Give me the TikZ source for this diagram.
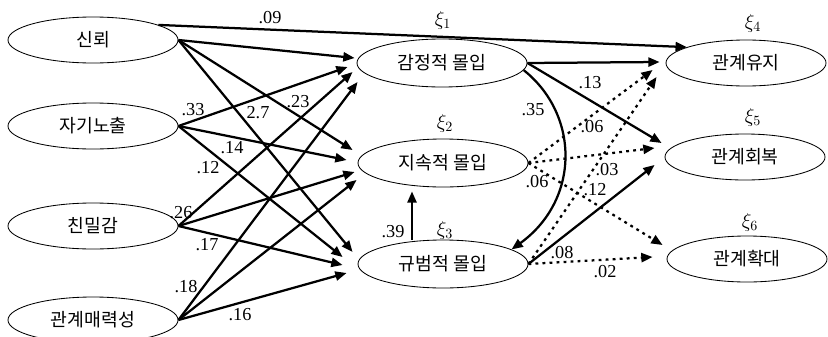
\documentclass[tikz,border=0pt]{standalone}
\usepackage{fontspec}
\setmainfont{Liberation Serif}
\newfontfamily\kr{Noto Sans CJK KR}
\usetikzlibrary{shapes.geometric,arrows.meta}

\begin{document}
\begin{tikzpicture}[x=0.025cm,y=-0.025cm,
		var/.style={ellipse, draw, line width=0.6pt, inner sep=0pt,
			minimum width=4.25cm, minimum height=1.15cm,
			font=\kr\fontsize{13}{15}\selectfont},
		eff/.style={line width=1.6pt, -{Triangle[length=8pt,width=6.5pt]}},
		effdot/.style={eff, dash pattern=on 2pt off 3pt},
		coef/.style={inner sep=0pt, font=\fontsize{13}{15}\selectfont},
		xilab/.style={inner sep=0pt, font=\fontsize{14}{16}\selectfont},
		]
		\useasboundingbox (0,0) rectangle (828,336);
		
		% ── variabili esogene ──
		\node[var] (sin)  at (93,40)  {신뢰};
		\node[var] (jagi) at (93,126) {자기노출};
		\node[var] (chin) at (93,226) {친밀감};
		\node[var] (mae)  at (93,320) {관계매력성};
		
		% ── commitment (centro) ──
		\node[var, minimum height=1.2cm] (gam) at (442,63)  {감정적 몰입};
		\node[var, minimum height=1.2cm] (jis) at (443,163) {지속적 몰입};
		\node[var, minimum height=1.2cm] (gyu) at (443,264) {규범적 몰입};
		
		% ── esiti (destra) ──
		\node[var, minimum width=4cm] (yuji)    at (746,63)  {관계유지};
		\node[var, minimum width=4cm] (hoebok)  at (745,157) {관계회복};
		\node[var, minimum width=4cm] (hwakdae) at (747,259) {관계확대};
		
		% ── etichette xi ──
		\node[xilab] (x1) at (443,20)  {$\xi_1$};
		\node[xilab] (x2) at (445,123) {$\xi_2$};
		\node[xilab] (x3) at (445,230) {$\xi_3$};
		\node[xilab] (x4) at (753,23)  {$\xi_4$};
		\node[xilab] (x5) at (753,117) {$\xi_5$};
		\node[xilab] (x6) at (750,222) {$\xi_6$};
		
		% ── frecce sinistra -> centro ──
		\foreach \s/\t/\dx/\dy in {sin/gam/-2/-5, jagi/gam/-9/4, chin/gam/-4/9, mae/gam/1/19,
			sin/jis/-5/-13, jagi/jis/-11/-3, chin/jis/-3/9, mae/jis/-1/17,
			sin/gyu/-5/-12, jagi/gyu/-15/-7, chin/gyu/-15/1, mae/gyu/-11/9}
		\draw[eff] (\s.east) -- ([shift={(\dx,\dy)}]\t.west);
		\draw[eff] (sin.13) -- (yuji.165);
		
		% ── frecce centro -> destra ──
		\draw[eff] (gam.east) -- ([shift={(-6,-1)}]yuji.west);
		\draw[eff] (gam.east) -- ([shift={(-3,-14)}]hoebok.west);
		\draw[eff] (gam.-5) .. controls (580,115) and (580,200) .. (gyu.12);
		\draw[eff] ([shift={(-31,0)}]gyu.north) -- ([shift={(-31,4)}]jis.south);
		\draw[eff] (gyu.east) -- ([shift={(-10,8)}]hoebok.west);
		\foreach \s/\t/\dx/\dy in {jis/yuji/-13/7, jis/hoebok/-10/-9, jis/hwakdae/-4/-14,
			gyu/yuji/-9/14, gyu/hwakdae/-14/-2}
		\draw[effdot] (\s.east) -- ([shift={(\dx,\dy)}]\t.west);
		
		% ── coefficienti ──
		\foreach \x/\y/\c [count=\i] in {270/18/.09, 193/110/.33, 258/113/2.7, 298/102/.23,
			232/148/.14, 208/168/.12, 181/213/.26, 207/245/.17, 186/287/.18, 240/315/.16,
			533/110/.35, 590/83/.13, 592/127/.06, 537/182/.06, 607/170/.03, 595/190/.12,
			562/253/.08, 605/272/.02, 393/232/.39}
		\node[coef] (c\i) at (\x,\y) {\c};
		
	\end{tikzpicture}
\end{document}
